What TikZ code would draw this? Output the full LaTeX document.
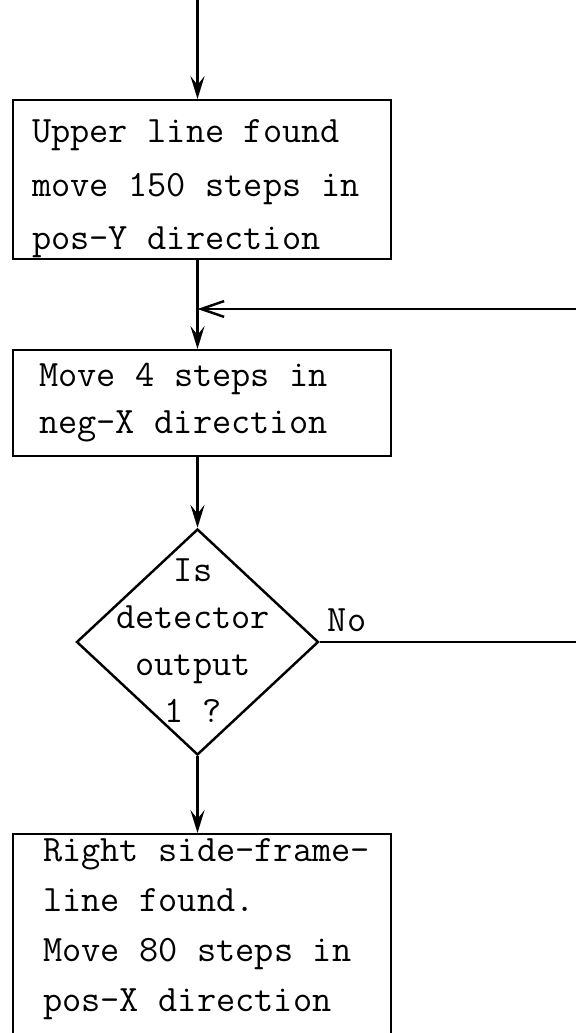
\documentclass[tikz,border=0pt]{standalone}
\usepackage{tikz}
\usetikzlibrary{shapes.geometric,arrows.meta}
\newcommand{\flowfont}[1][28.45]{\fontsize{21.2}{#1}\selectfont\ttfamily}

\begin{document}
\begin{tikzpicture}[
  line width=1.4pt, font=\flowfont,
  stepbox/.style={draw, rectangle, anchor=north west, minimum width=7.56cm, inner sep=0pt},
  boxtext/.style={anchor=base west, inner sep=0pt, text width=7.5cm, align=left,
    execute at begin node={\spaceskip=0.525em\relax}},
  decision/.style={draw, diamond, minimum width=4.84cm, minimum height=4.52cm, inner sep=0pt},
  flow/.style={-{Stealth[length=13pt,width=8pt,inset=5pt]}},
  backflow/.style={-{Straight Barb[length=13pt,width=9pt]}}
]
\clip (0,0) rectangle (11.52,20.66);

% Upper line handling
\coordinate (entry) at (3.95,20.66);
\node[stepbox, minimum height=3.18cm] (upper) at (0.24,18.68) {};
\node[boxtext, font={\flowfont[30.4]}] (uppertext) at ([xshift=0.38cm,yshift=-0.88cm]upper.north west)
  {Upper line found\\move 150 steps in\\pos-Y direction};

% Step along neg-X
\node[stepbox, minimum height=2.12cm] (negx) at (0.24,13.68) {};
\node[boxtext, font={\flowfont[26.7]}] (negxtext) at ([xshift=0.52cm,yshift=-0.76cm]negx.north west)
  {Move 4 steps in\\neg-X direction};

% Detector test
\node[decision] (test) at (3.95,7.82) {};
\node[boxtext, anchor=base, text width=5cm, align=center, font={\flowfont[26.7]}] (testtext)
  at (3.86,9.02) {Is\\detector\\output\\1 ?};

% Right side-frame line (box runs off the bottom)
\node[stepbox, minimum height=5cm] (right) at (0.24,4.00) {};
\node[boxtext] (righttext) at ([xshift=0.60cm,yshift=-0.58cm]right.north west)
  {Right side-frame-\\line found.\\Move 80 steps in\\pos-X direction};

% Connections
\draw[flow] (entry) -- (entry |- upper.north);
\draw[flow] (entry |- upper.south) -- (entry |- negx.north);
\draw[flow] (test.north |- negx.south) -- (test.north);
\draw[flow] (test.south) -- (test.south |- right.north);

% Loop back on "No"
\coordinate (loopout) at (11.52,7.82);
\coordinate (loopin) at (11.52,14.48);
\draw (test.east) -- (loopout);
\node[anchor=base west, inner sep=0pt] (nolabel) at ([xshift=0.14cm,yshift=0.2cm]test.east) {No};
\draw[backflow] (loopin) -- (entry |- loopin);
\end{tikzpicture}
\end{document}
